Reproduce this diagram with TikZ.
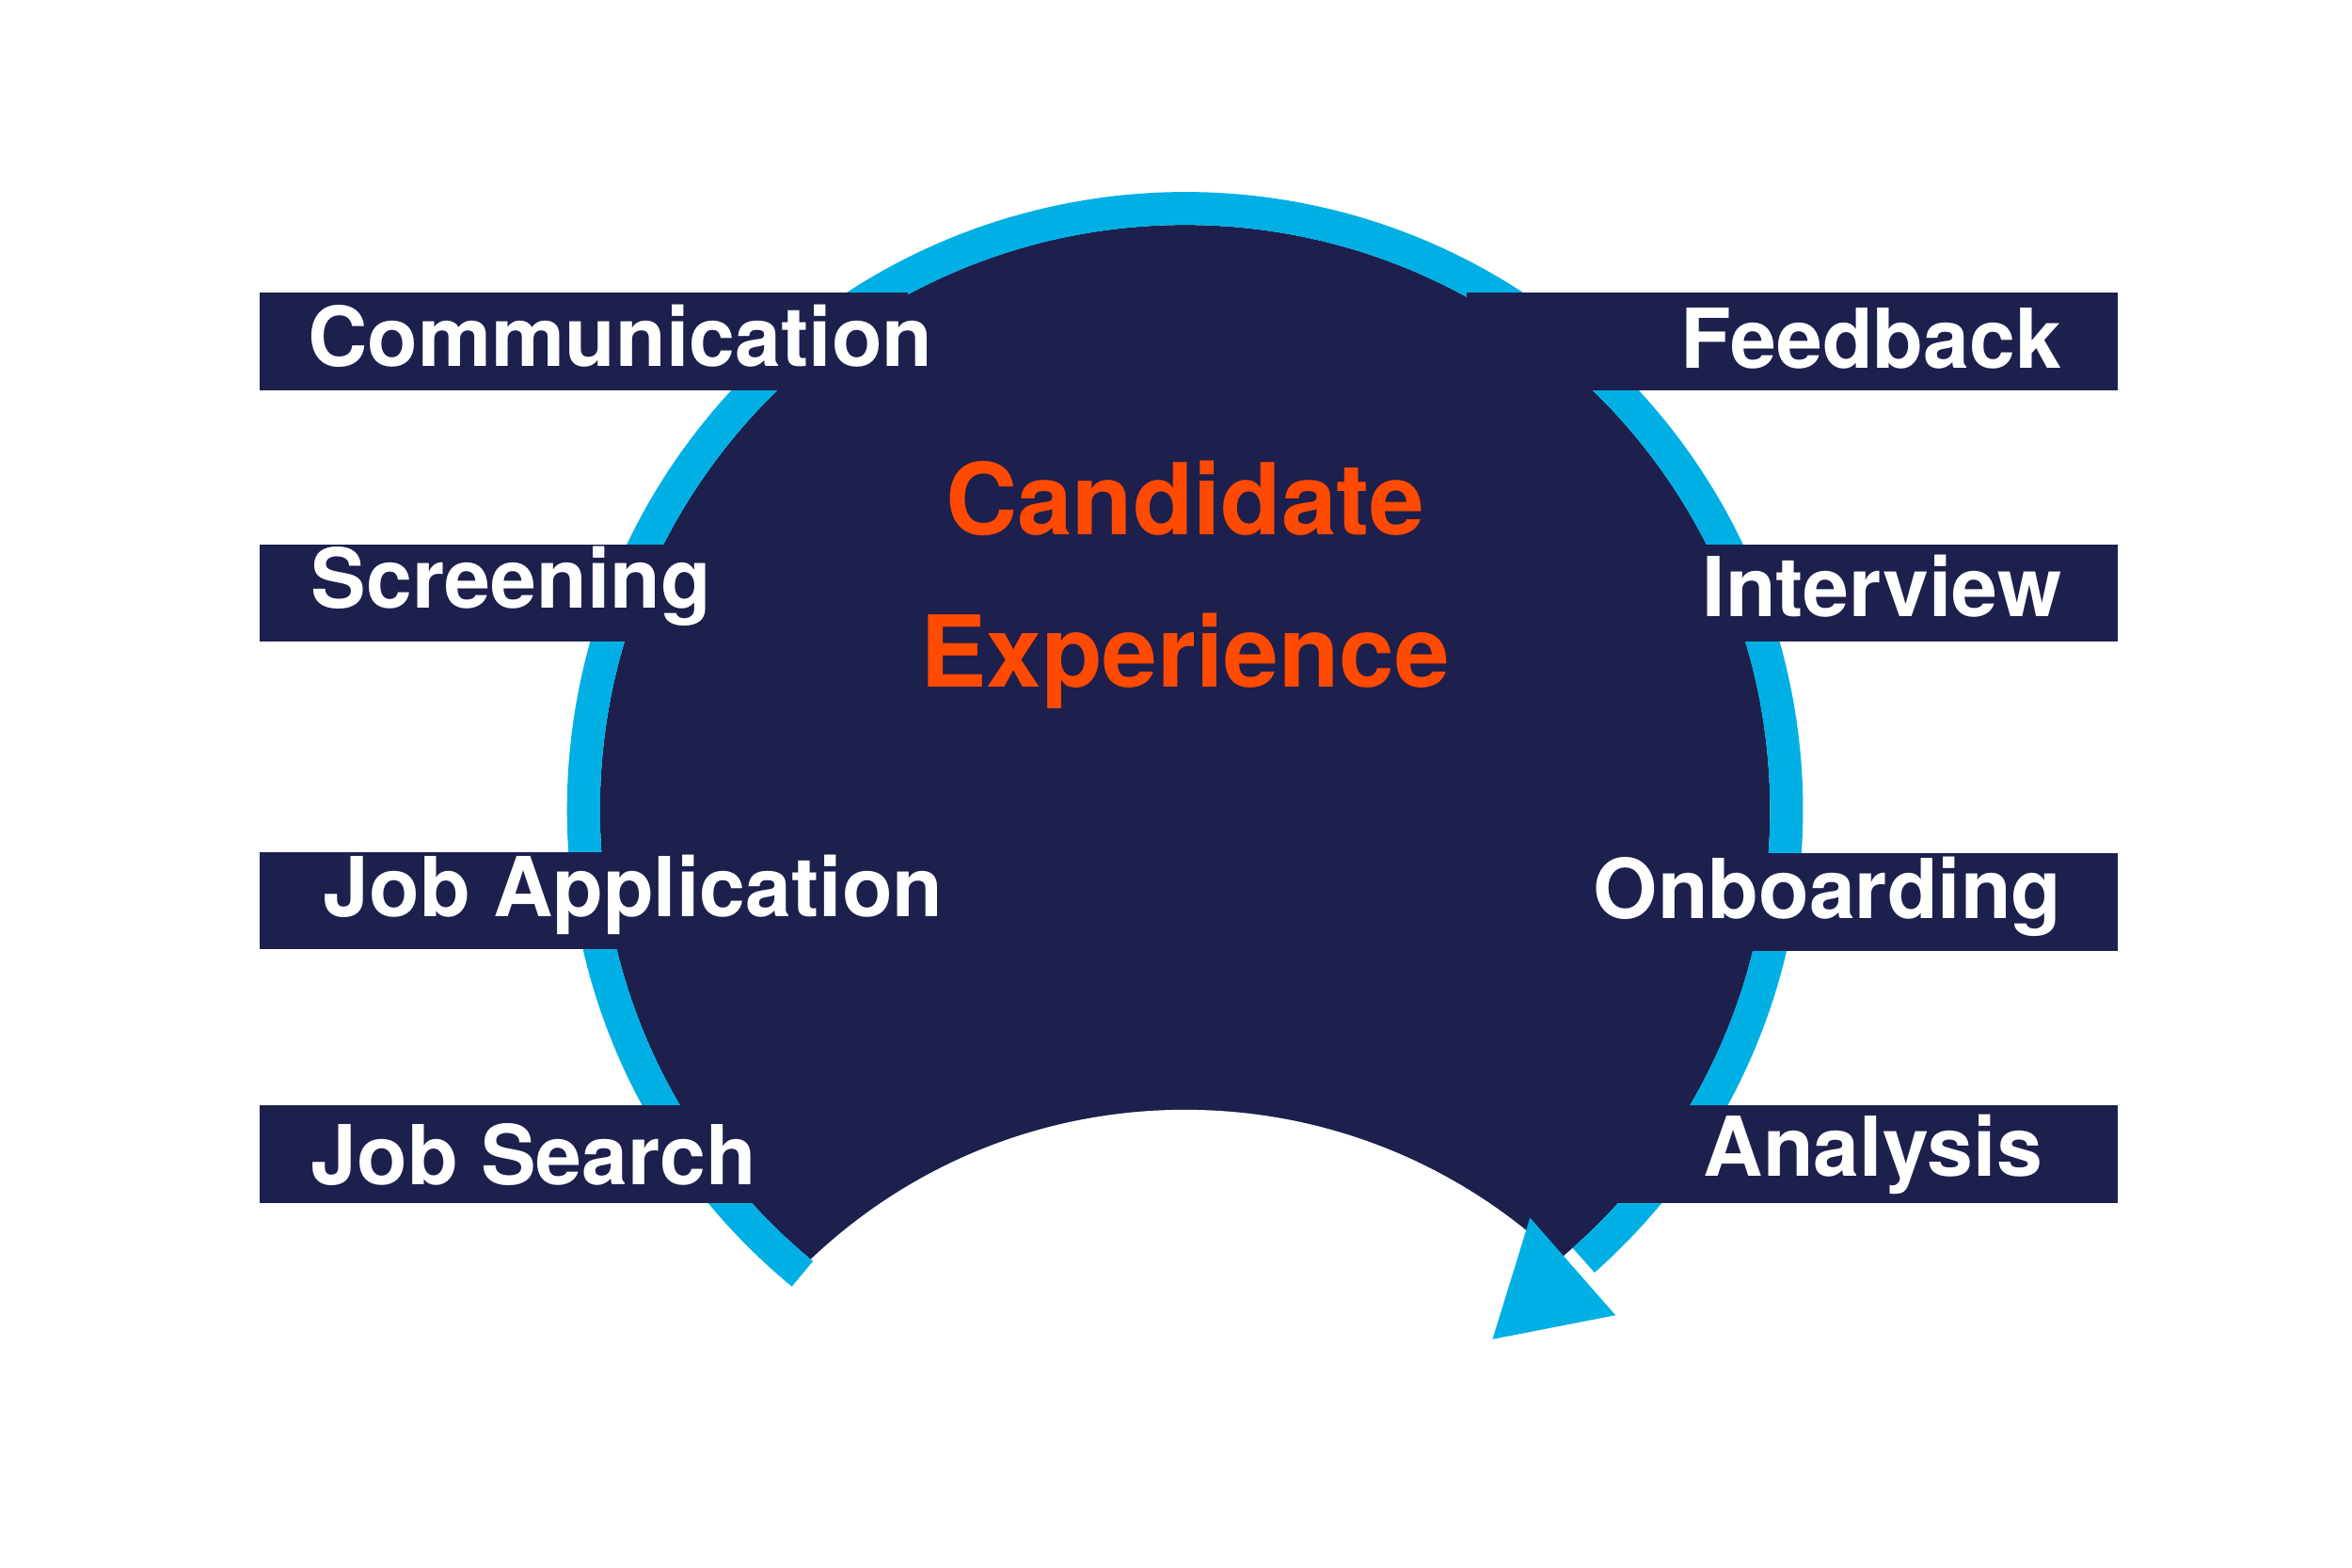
\documentclass[tikz,border=0pt]{standalone}
\usepackage{fontspec}
\setmainfont{TeX Gyre Heros}
\definecolor{navy}{HTML}{1D1F4D}
\definecolor{ringblue}{HTML}{00B0E4}
\definecolor{orangered}{HTML}{FF4A00}
\begin{document}
\begin{tikzpicture}[x=0.01594cm, y=-0.01594cm,
    bar/.style={fill=navy},
    lbl/.style={text=white, font=\bfseries\fontsize{25}{30}\selectfont, inner sep=0pt},
    ring/.style={ringblue, line width=22*0.01594cm}
]
    \useasboundingbox[fill=white] (0,0) rectangle (1568,1045);
    \coordinate (c) at (790,540);
    % disc cut by the white circle
    \fill[navy] (c) circle[radius=390];
    \fill[white] (790,1102) circle[radius=362];
    % blue ring with arrow head
    \draw[ring] (c) ++(129.5:401) arc[start angle=129.5, end angle=408.5, radius=401];
    \fill[ringblue] (995,893) -- (1020,812) -- (1077,877) -- cycle;
    % left bars
    \fill[bar] (173,195) rectangle (605,260);
    \fill[bar] (173,363) rectangle (600,428);
    \fill[bar] (173,568) rectangle (600,633);
    \fill[bar] (173,737) rectangle (505,802);
    % right bars
    \fill[bar] (978,195) rectangle (1412,260);
    \fill[bar] (980,363) rectangle (1412,428);
    \fill[bar] (980,569) rectangle (1412,634);
    \fill[bar] (1075,737) rectangle (1412,802);
    % labels
    \node[lbl, anchor=west] (comm) at (205,224) {Communication};
    \node[lbl, anchor=west] (scr) at (207,391) {Screening};
    \node[lbl, anchor=west] (app) at (215,597) {Job Application};
    \node[lbl, anchor=west] (srch) at (207,770) {Job Search};
    \node[lbl, anchor=east] (fb) at (1375,226) {Feedback};
    \node[lbl, anchor=east] (int) at (1375,391) {Interview};
    \node[lbl, anchor=east] (onb) at (1375,598) {Onboarding};
    \node[lbl, anchor=east] (ana) at (1362,770) {Analysis};
    \node[text=orangered, font=\bfseries\fontsize{30}{46}\selectfont, align=center] (ce) at (790,390) {Candidate\\Experience};
\end{tikzpicture}
\end{document}
